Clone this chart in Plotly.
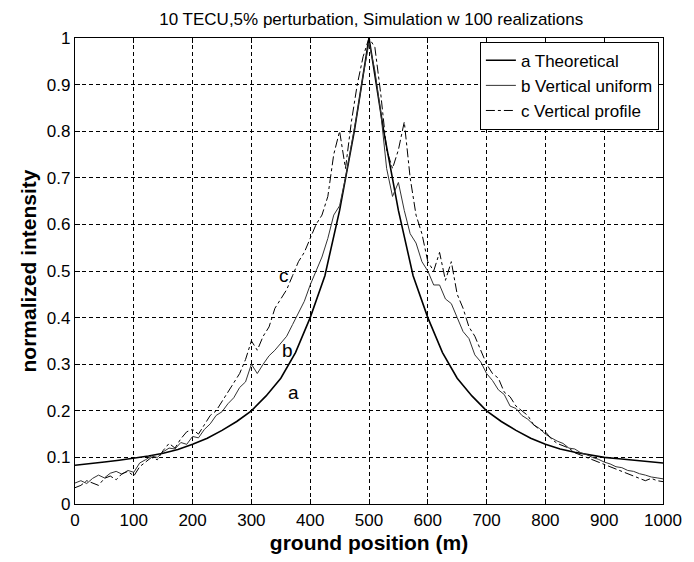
import plotly.graph_objects as go

# ---- data ----
x_a = [0, 25, 50, 75, 100, 125, 150, 175, 200, 225, 250, 275, 300, 325, 350, 375, 400,
       425, 450, 475, 500, 525, 550, 575, 600, 625, 650, 675, 700, 725, 750, 775, 800,
       825, 850, 875, 900, 925, 950, 975, 1000]
y_a = [0.083, 0.086, 0.09, 0.094, 0.098, 0.103, 0.109, 0.117, 0.128, 0.141, 0.158, 0.177, 0.2,
       0.232, 0.27, 0.325, 0.4, 0.49, 0.63, 0.8, 1.0, 0.8, 0.63, 0.49, 0.4, 0.325, 0.27,
       0.232, 0.2, 0.177, 0.158, 0.141, 0.128, 0.118, 0.111, 0.105, 0.1, 0.097, 0.094, 0.091, 0.088]

x_bc = list(range(0, 1001, 10))
y_b = [0.045, 0.05, 0.044, 0.055, 0.062, 0.056, 0.066, 0.07, 0.064, 0.072, 0.068,
       0.088, 0.095, 0.103, 0.1, 0.112, 0.12, 0.118, 0.132, 0.128, 0.145,
       0.142, 0.16, 0.172, 0.19, 0.198, 0.215, 0.228, 0.25, 0.262, 0.3,
       0.28, 0.3, 0.318, 0.33, 0.345, 0.36, 0.385, 0.41, 0.435, 0.47,
       0.5, 0.53, 0.57, 0.62, 0.64, 0.7, 0.77, 0.84, 0.92, 0.99,
       0.93, 0.84, 0.72, 0.66, 0.69, 0.63, 0.58, 0.56, 0.52, 0.5,
       0.47, 0.47, 0.44, 0.43, 0.4, 0.37, 0.355, 0.32, 0.305, 0.28,
       0.265, 0.245, 0.235, 0.21, 0.205, 0.19, 0.182, 0.17, 0.162, 0.15,
       0.142, 0.135, 0.13, 0.12, 0.118, 0.11, 0.106, 0.1, 0.096, 0.09,
       0.086, 0.08, 0.078, 0.072, 0.07, 0.065, 0.062, 0.058, 0.056, 0.054, 0.052]
y_c = [0.035, 0.04, 0.05, 0.045, 0.04, 0.055, 0.06, 0.052, 0.065, 0.07, 0.06,
       0.08, 0.09, 0.1, 0.095, 0.115, 0.13, 0.12, 0.14, 0.155, 0.16,
       0.15, 0.17, 0.19, 0.2, 0.22, 0.24, 0.26, 0.28, 0.31, 0.35,
       0.33, 0.36, 0.38, 0.42, 0.44, 0.46, 0.49, 0.52, 0.54, 0.57,
       0.6, 0.62, 0.66, 0.75, 0.8, 0.72, 0.82, 0.9, 0.96, 1.0,
       0.98, 0.88, 0.76, 0.72, 0.76, 0.82, 0.7, 0.62, 0.58, 0.52,
       0.5, 0.54, 0.48, 0.52, 0.45, 0.42, 0.38, 0.36, 0.33, 0.3,
       0.28, 0.27, 0.24, 0.23, 0.21, 0.2, 0.19, 0.17, 0.16, 0.155,
       0.14, 0.13, 0.125, 0.12, 0.11, 0.105, 0.1, 0.095, 0.09, 0.085,
       0.08, 0.075, 0.07, 0.065, 0.06, 0.055, 0.05, 0.055, 0.05, 0.048, 0.048]

names = ["a Theoretical", "b Vertical uniform", "c Vertical profile"]
x_ticks = [0, 100, 200, 300, 400, 500, 600, 700, 800, 900, 1000]
y_ticks = [0, 0.1, 0.2, 0.3, 0.4, 0.5, 0.6, 0.7, 0.8, 0.9, 1]
y_ticklabels = ["0", "0.1", "0.2", "0.3", "0.4", "0.5", "0.6", "0.7", "0.8", "0.9", "1"]
curve_labels = ["a", "b", "c"]
label_x = [372, 362, 355]
label_y = [0.24, 0.33, 0.49]

FONT = "Liberation Sans Narrow, Arial Narrow, Liberation Sans, Arial, sans-serif"
BOLD = "Arial, Liberation Sans, sans-serif"

fig = go.Figure()
fig.add_trace(go.Scatter(x=x_a, y=y_a, mode="lines", name=names[0],
                         line=dict(color="black", width=1.6)))
fig.add_trace(go.Scatter(x=x_bc, y=y_b, mode="lines", name=names[1],
                         line=dict(color="#333", width=1)))
fig.add_trace(go.Scatter(x=x_bc, y=y_c, mode="lines", name=names[2],
                         line=dict(color="black", width=1, dash="dashdot")))

for t, xx, yy in zip(curve_labels, label_x, label_y):
    fig.add_annotation(x=xx, y=yy, text=t, showarrow=False,
                       font=dict(family=BOLD, size=19, color="black"))

axis_common = dict(showline=True, linecolor="black", linewidth=1.2, mirror="ticks",
                   ticks="inside", ticklen=5, tickcolor="black",
                   showgrid=True, gridcolor="black", griddash="4px,3px", gridwidth=1.2,
                   zeroline=False, tickfont=dict(family=FONT, size=17, color="black"))

fig.update_xaxes(range=[0, 1000], tickvals=x_ticks, **axis_common,
                 title=dict(text="<b>ground position (m)</b>", standoff=6,
                            font=dict(family=BOLD, size=21, color="black")))
fig.update_yaxes(range=[0, 1], tickvals=y_ticks, ticktext=y_ticklabels, **axis_common,
                 title=dict(text="<b>normalized intensity</b>", standoff=4,
                            font=dict(family=BOLD, size=21, color="black")))

fig.update_layout(
    width=694, height=562,
    margin=dict(l=75, r=27, t=38, b=55),
    paper_bgcolor="white", plot_bgcolor="white",
    title=dict(text="10 TECU,5% perturbation, Simulation w 100 realizations",
               x=0.535, xanchor="center", y=0.966, yanchor="middle",
               font=dict(family=FONT, size=17, color="black")),
    legend=dict(x=0.993, y=0.992, xanchor="right", yanchor="top",
                bgcolor="white", bordercolor="black", borderwidth=1,
                font=dict(family=BOLD, size=17, color="black"),
                tracegroupgap=0, itemwidth=30),
    showlegend=True,
)

fig.write_html("out.html")
